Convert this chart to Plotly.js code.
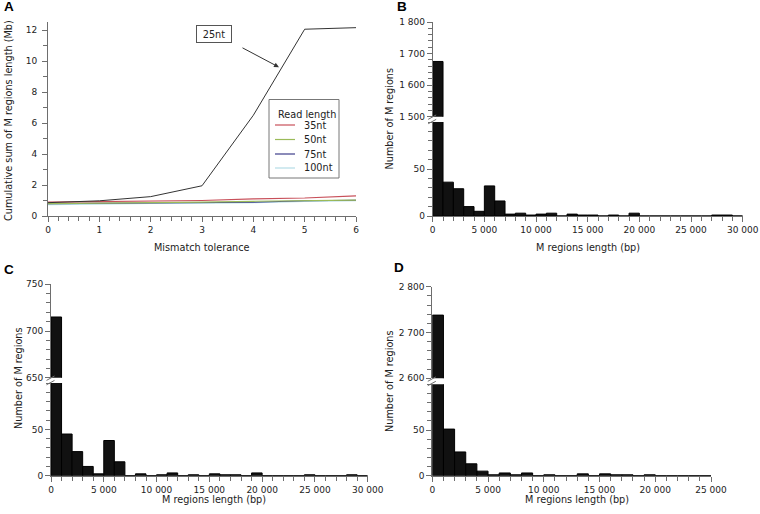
<!DOCTYPE html>
<html><head><meta charset="utf-8">
<script src="https://cdn.plot.ly/plotly-3.0.1.min.js"></script>
<style>html,body{margin:0;padding:0;background:#fff}#chart{width:760px;height:514px}</style>
</head><body><div id="chart"></div>
<script>
// ---------- DATA ----------
// Panel A: cumulative sum of M regions length (Mb) vs mismatch tolerance
const mismatch = [0, 1, 2, 3, 4, 5, 6];
const nt25  = [0.86, 0.98, 1.25, 1.95, 6.5, 12.05, 12.15];
const nt35  = [0.90, 0.92, 0.97, 1.00, 1.10, 1.16, 1.30];
const nt50  = [0.80, 0.82, 0.87, 0.90, 0.95, 1.00, 1.03];
const nt75  = [0.80, 0.82, 0.85, 0.87, 0.89, 0.98, 1.02];
const nt100 = [0.74, 0.79, 0.82, 0.84, 0.87, 0.95, 1.00];
const seriesNames = ['35nt', '50nt', '75nt', '100nt'];

// Panels B, C, D: number of M regions per 1 000 bp length bin (bins start at 0)
const binWidth = 1000;
const countsB = [1675, 36, 29, 10, 5, 32, 16, 2, 3, 1, 2, 3, 0, 2, 1, 1, 0, 1, 0, 3, 0, 0, 0, 0, 0, 0, 0, 1, 1, 0];
const countsC = [715, 45, 26, 10, 2, 38, 15, 0, 2, 0, 1, 3, 0, 1, 0, 2, 1, 1, 0, 3, 0, 0, 0, 0, 1, 0, 0, 0, 1, 0];
const countsD = [2738, 51, 26, 13, 5, 1, 3, 1, 3, 0, 1, 0, 0, 2, 0, 2, 1, 1, 0, 1, 0, 0, 0, 0, 0];

// ---------- HELPERS ----------
const W = 760, H = 514;
const fx = p => p / W;
const fy = p => 1 - p / H;
const FONT = 'DejaVu Sans';
const AX = '#6e6e6e';
const TXT = '#222';

function axisBase(extra) {
  return Object.assign({
    showline: true, linecolor: AX, linewidth: 1,
    ticks: 'outside', ticklen: 5, tickcolor: AX, tickwidth: 1,
    showgrid: false, zeroline: false, fixedrange: true,
    tickfont: {family: FONT, size: 9, color: TXT},
    tickformat: ',d'
  }, extra);
}
function minor(dtick, tick0, len) {
  return {tickmode: 'linear', dtick: dtick, tick0: tick0, ticklen: len || 4, tickcolor: AX, tickwidth: 1, ticks: 'outside', showgrid: false};
}
const centers = arr => arr.map((_, i) => i * binWidth + binWidth / 2);

function barPair(counts, xa, yLow, yUp, upMin) {
  const common = {type: 'bar', width: binWidth, showlegend: false, hoverinfo: 'skip',
    marker: {color: '#111', line: {color: '#000', width: 1}}};
  return [
    Object.assign({x: centers(counts), y: counts, xaxis: xa, yaxis: yLow}, common),
    Object.assign({x: centers(counts), y: counts.map(v => v >= upMin ? v : null), xaxis: xa, yaxis: yUp}, common)
  ];
}

// ---------- TRACES ----------
const lineColors = {'25nt': '#333333', '35nt': '#c8505a', '50nt': '#9bbb59', '75nt': '#3f3f8a', '100nt': '#b4dce6'};
const traces = [
  {x: mismatch, y: nt100, name: '100nt', mode: 'lines', line: {color: lineColors['100nt'], width: 1.3}},
  {x: mismatch, y: nt75, name: '75nt', mode: 'lines', line: {color: lineColors['75nt'], width: 1.1}},
  {x: mismatch, y: nt50, name: '50nt', mode: 'lines', line: {color: lineColors['50nt'], width: 1.2}},
  {x: mismatch, y: nt35, name: '35nt', mode: 'lines', line: {color: lineColors['35nt'], width: 1.2}},
  {x: mismatch, y: nt25, name: '25nt', mode: 'lines', line: {color: lineColors['25nt'], width: 1}}
].map(t => Object.assign(t, {xaxis: 'x', yaxis: 'y', showlegend: false, hoverinfo: 'skip'}));

traces.push(...barPair(countsB, 'x2', 'y2', 'y3', 1500));
traces.push(...barPair(countsC, 'x3', 'y4', 'y5', 650));
traces.push(...barPair(countsD, 'x4', 'y6', 'y7', 2600));

// ---------- LAYOUT ----------
const layout = {
  width: W, height: H,
  margin: {l: 0, r: 0, t: 0, b: 0},
  paper_bgcolor: '#fff', plot_bgcolor: 'rgba(0,0,0,0)',
  separators: '. ',
  bargap: 0,
  font: {family: FONT, size: 10, color: TXT},
  xaxis: axisBase({domain: [fx(48), fx(356)], anchor: 'y', range: [0, 6], dtick: 1, tick0: 0, minor: minor(0.2, 0, 4)}),
  yaxis: axisBase({domain: [fy(216), fy(22.25)], anchor: 'x', range: [0, 12.5], dtick: 2, tick0: 0, minor: minor(1, 0, 4), ticklabelstandoff: 3}),

  xaxis2: axisBase({domain: [fx(432.7), fx(742.7)], anchor: 'y2', range: [0, 30000], dtick: 5000, tick0: 0, minor: minor(1000, 0, 4)}),
  yaxis2: axisBase({domain: [fy(216), fy(122)], anchor: 'x2', range: [0, 100], tickmode: 'array', tickvals: [0, 50], minor: minor(10, 0, 4)}),
  yaxis3: axisBase({domain: [fy(116.7), fy(22)], anchor: 'x2', range: [1500, 1800], dtick: 100, tick0: 1500, minor: minor(20, 1500, 4)}),

  xaxis3: axisBase({domain: [fx(51), fx(367.7)], anchor: 'y4', range: [0, 30000], dtick: 5000, tick0: 0, minor: minor(1000, 0, 4)}),
  yaxis4: axisBase({domain: [fy(475.7), fy(383.1)], anchor: 'x3', range: [0, 100], tickmode: 'array', tickvals: [0, 50], minor: minor(10, 0, 4)}),
  yaxis5: axisBase({domain: [fy(377.7), fy(284.3)], anchor: 'x3', range: [650, 750], dtick: 50, tick0: 650, minor: minor(10, 650, 4)}),

  xaxis4: axisBase({domain: [fx(432.3), fx(711)], anchor: 'y6', range: [0, 25000], dtick: 5000, tick0: 0, minor: minor(1000, 0, 4)}),
  yaxis6: axisBase({domain: [fy(475.7), fy(384.3)], anchor: 'x4', range: [0, 100], tickmode: 'array', tickvals: [0, 50], minor: minor(10, 0, 4)}),
  yaxis7: axisBase({domain: [fy(378.3), fy(286.7)], anchor: 'x4', range: [2600, 2800], dtick: 100, tick0: 2600, minor: minor(20, 2600, 4)}),
  shapes: [],
  annotations: []
};

// Axis titles and panel letters
function txt(text, x, y, opts) {
  return Object.assign({text: text, x: fx(x), y: fy(y), xref: 'paper', yref: 'paper', showarrow: false,
    xanchor: 'center', yanchor: 'middle', font: {family: FONT, size: 9.7, color: TXT}}, opts || {});
}
const letterFont = {family: 'Liberation Sans', size: 13.5, color: '#000', weight: 'bold'};
layout.annotations.push(
  txt('<b>A</b>', 9, 7, {font: letterFont}),
  txt('<b>B</b>', 402, 7, {font: letterFont}),
  txt('<b>C</b>', 9, 269, {font: letterFont}),
  txt('<b>D</b>', 399, 267, {font: letterFont}),
  txt('Cumulative sum of M regions length (Mb)', 8, 121, {textangle: -90}),
  txt('Mismatch tolerance', 202, 247),
  txt('Number of M regions', 389, 118.5, {textangle: -90}),
  txt('M regions length (bp)', 588, 247),
  txt('Number of M regions', 18, 378, {textangle: -90}),
  txt('M regions length (bp)', 214, 499),
  txt('Number of M regions', 389, 381, {textangle: -90}),
  txt('M regions length (bp)', 577, 499)
);

// Panel A legend box (drawn manually)
const legTop = 99.5, legLeft = 269, legRight = 339, legBottom = 178;
layout.shapes.push({type: 'rect', xref: 'paper', yref: 'paper', x0: fx(legLeft), x1: fx(legRight), y0: fy(legBottom), y1: fy(legTop),
  line: {color: '#777', width: 1}, fillcolor: 'rgba(255,255,255,0)'});
layout.annotations.push(txt('Read length', 276, 114, {xanchor: 'left', font: {family: FONT, size: 9.7, color: TXT}}));
const legRows = [125, 139.5, 154, 168];
seriesNames.forEach((n, i) => {
  layout.shapes.push({type: 'line', xref: 'paper', yref: 'paper', x0: fx(275), x1: fx(295), y0: fy(legRows[i]), y1: fy(legRows[i]),
    line: {color: lineColors[n], width: 1.2}});
  layout.annotations.push(txt(n, 302, legRows[i], {xanchor: 'left'}));
});

// 25nt label box and arrow
layout.annotations.push(
  {text: '25nt', x: 3.23, y: 11.74, xref: 'x', yref: 'y', showarrow: false, font: {family: FONT, size: 9.7, color: TXT},
   bordercolor: '#555', borderwidth: 1, borderpad: 2, width: 30, height: 12, bgcolor: '#fff'},
  {text: '', x: 4.5, y: 9.6, xref: 'x', yref: 'y', ax: 3.76, ay: 10.9, axref: 'x', ayref: 'y', showarrow: true,
   arrowhead: 2, arrowsize: 1, arrowwidth: 1, arrowcolor: '#333'}
);

// Axis-break marks
function breakMarks(xp, yUpBottom, yLowTop) {
  const mid = (yUpBottom + yLowTop) / 2;
  [-2.2, 2.2].forEach(d => {
    layout.shapes.push({type: 'line', xref: 'paper', yref: 'paper',
      x0: fx(xp - 4.5), y0: fy(mid + d + 2.2), x1: fx(xp + 3.5), y1: fy(mid + d - 2.2),
      line: {color: AX, width: 1}});
  });
}
breakMarks(432.7, 116.7, 122);
breakMarks(51, 377.7, 383.1);
breakMarks(432.3, 378.3, 384.3);

Plotly.newPlot('chart', traces, layout, {displayModeBar: false, staticPlot: true});
</script>
</body></html>
